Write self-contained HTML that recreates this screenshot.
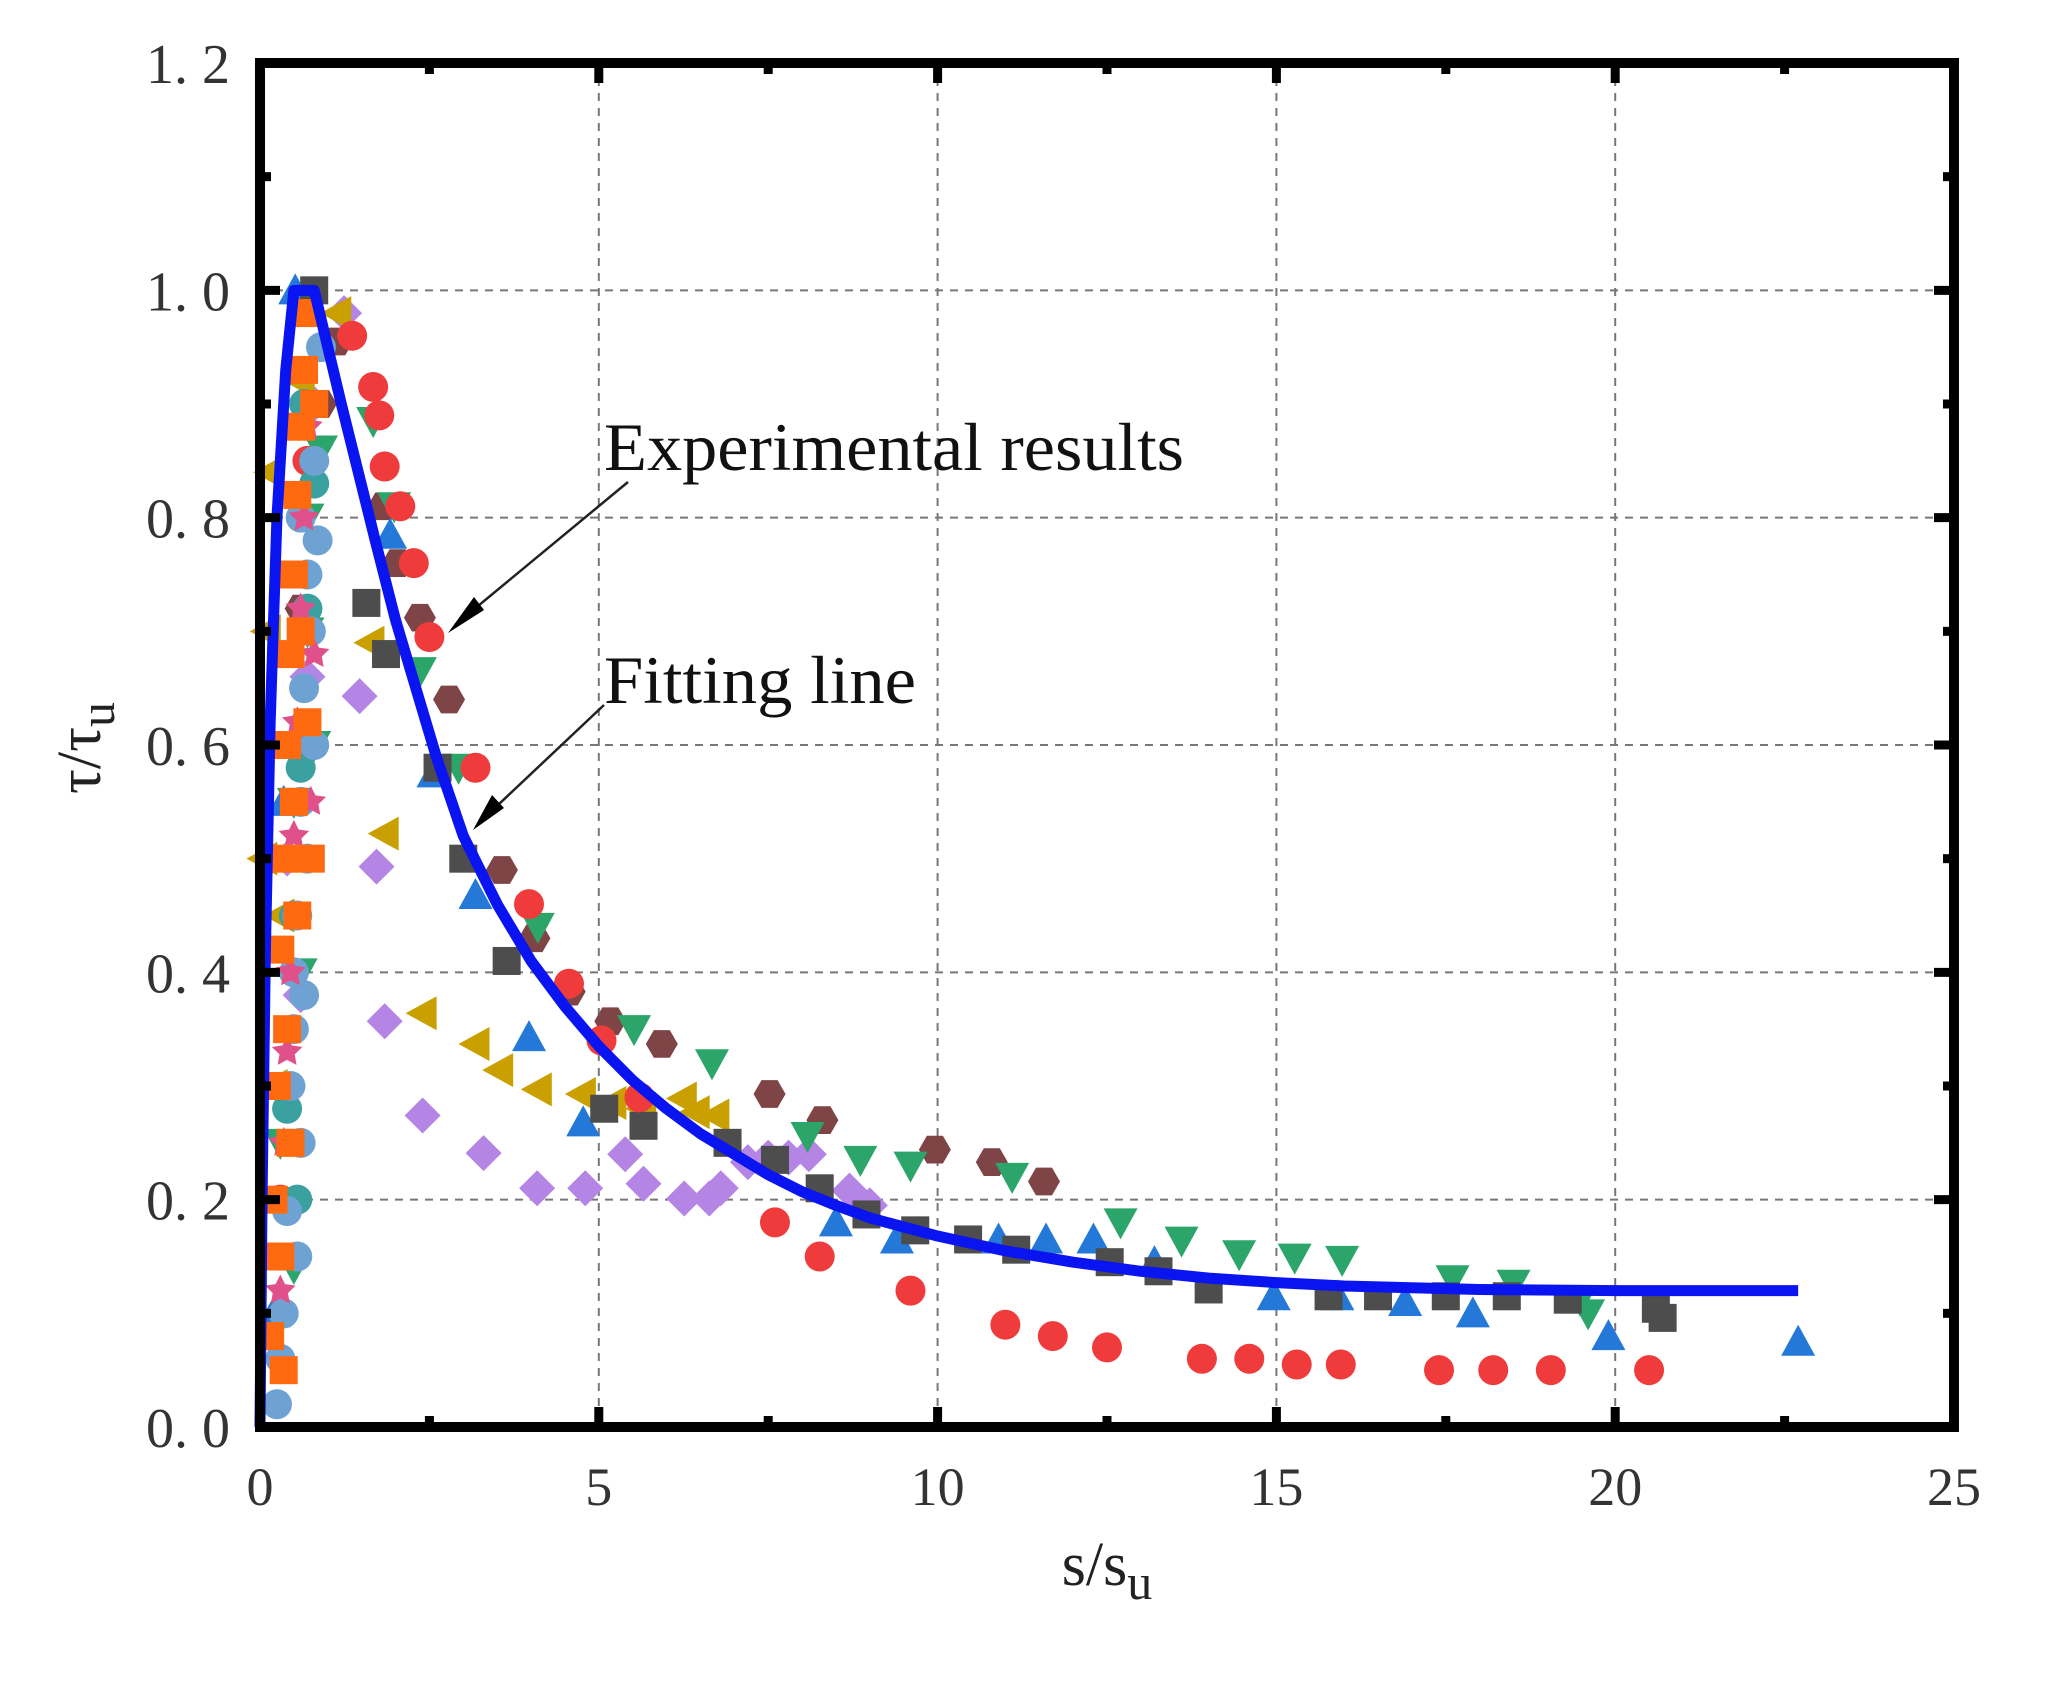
<!DOCTYPE html>
<html><head><meta charset="utf-8"><style>
html,body{margin:0;padding:0;background:#fff;}
svg{display:block;}
text{font-family:"Liberation Serif",serif;}
</style></head><body>
<svg id="chart" width="2061" height="1689" viewBox="0 0 2061 1689" xmlns="http://www.w3.org/2000/svg">
<g id="grid"></g>
<g id="marks"></g>
<g id="fitg"></g>
<g id="axes"></g>
<text x="1107" y="1585" font-size="62" text-anchor="middle" fill="#222">s/s<tspan font-size="50" dy="14">u</tspan></text>
<text transform="translate(100,748) rotate(-90)" font-size="62" text-anchor="middle" fill="#222">τ/τ<tspan font-size="50" dy="14">u</tspan></text>
<text x="604" y="470" font-size="68" textLength="580" lengthAdjust="spacingAndGlyphs" fill="#111">Experimental results</text>
<text x="604" y="703" font-size="68" textLength="312" lengthAdjust="spacingAndGlyphs" fill="#111">Fitting line</text>
<line x1="628" y1="482" x2="455" y2="625" stroke="#222" stroke-width="2.5"/>
<polygon points="448,633 474,597 484,610" fill="#000"/>
<line x1="604" y1="705" x2="480" y2="822" stroke="#222" stroke-width="2.5"/>
<polygon points="473,830 492,795 504,808" fill="#000"/>
</svg>
<script>
const xTicks=[0,5,10,15,20,25];
const xTickLabels=["0","5","10","15","20","25"];
const yTicks=[0,0.2,0.4,0.6,0.8,1.0,1.2];
const yTickLabels=["0. 0","0. 2","0. 4","0. 6","0. 8","1. 0","1. 2"];
const fitX=[0,0.03,0.08,0.15,0.25,0.38,0.5,0.8,1.0,1.2,1.45,1.7,2.0,2.3,2.6,3,3.5,4,4.5,5,5.5,6,6.5,7,7.5,8,8.5,9,10,11,12,13,14,15,16,18,20,22.7];
const fitY=[0,0.2,0.42,0.62,0.8,0.93,1.0,1.0,0.95,0.9,0.84,0.78,0.71,0.65,0.59,0.52,0.46,0.41,0.37,0.335,0.305,0.28,0.258,0.24,0.222,0.207,0.195,0.184,0.168,0.155,0.145,0.137,0.131,0.127,0.124,0.121,0.12,0.12];
const redX=[0.3,0.5,0.7,1.36,1.67,1.76,1.84,2.07,2.27,2.5,3.18,3.97,4.56,5.04,5.6,7.6,8.26,9.6,11.0,11.7,12.5,13.9,14.6,15.3,15.95,17.4,18.2,19.05,20.5];
const redY=[0.2,0.6,0.85,0.96,0.915,0.89,0.845,0.81,0.76,0.695,0.58,0.46,0.39,0.34,0.29,0.18,0.15,0.12,0.09,0.08,0.07,0.06,0.06,0.055,0.055,0.05,0.05,0.05,0.05];
const grayX=[0.3,0.5,0.8,1.57,1.86,2.62,3.0,3.64,5.08,5.66,6.9,7.6,8.26,8.95,9.67,10.45,11.16,12.54,13.26,14.0,15.77,16.5,17.5,18.4,19.3,20.6,20.7];
const grayY=[0.3,0.75,1.0,0.725,0.68,0.58,0.50,0.41,0.28,0.265,0.25,0.235,0.21,0.187,0.173,0.165,0.156,0.145,0.137,0.121,0.115,0.115,0.115,0.115,0.112,0.104,0.096];
const blueX=[0.2,0.35,0.52,1.92,2.56,3.18,3.97,4.77,8.5,9.4,10.9,11.6,12.3,13.2,14.96,15.9,16.9,17.9,19.9,22.7];
const blueY=[0.1,0.55,1.0,0.785,0.575,0.468,0.343,0.268,0.18,0.165,0.165,0.165,0.165,0.145,0.115,0.115,0.11,0.10,0.08,0.075];
const greenX=[0.3,0.5,0.7,1.67,1.98,2.36,2.93,4.1,5.52,6.67,8.08,8.86,9.6,11.1,12.7,13.6,14.45,15.27,15.97,17.6,18.5,19.48,19.6,0.6,0.8,0.9,0.5,0.7];
const greenY=[0.25,0.55,0.8,0.885,0.81,0.665,0.58,0.44,0.35,0.32,0.256,0.235,0.23,0.22,0.18,0.164,0.152,0.149,0.147,0.13,0.126,0.112,0.10,0.4,0.6,0.86,0.14,0.7];
const brownX=[0.6,0.9,1.14,1.82,2.03,2.36,2.79,3.57,4.05,4.57,5.17,5.93,7.52,8.3,9.96,10.8,11.57];
const brownY=[0.72,0.9,0.955,0.81,0.76,0.712,0.64,0.49,0.43,0.383,0.357,0.337,0.293,0.27,0.244,0.233,0.216];
const purpleX=[0.4,0.8,1.24,1.47,1.72,1.84,2.4,3.3,4.09,4.8,5.39,5.66,6.26,6.63,6.8,7.2,7.5,7.8,8.1,8.7,9.0,0.6,0.7];
const purpleY=[0.5,0.9,0.98,0.643,0.493,0.357,0.274,0.241,0.21,0.21,0.24,0.214,0.201,0.201,0.21,0.233,0.237,0.237,0.24,0.208,0.195,0.38,0.66];
const goldX=[0.05,0.1,0.15,0.3,0.6,1.14,1.63,1.84,2.4,3.18,3.53,4.1,4.75,5.2,5.64,6.24,6.43,6.72,0.2,0.45];
const goldY=[0.5,0.7,0.84,0.45,0.92,0.98,0.69,0.522,0.364,0.337,0.314,0.297,0.293,0.285,0.28,0.289,0.277,0.274,0.3,0.6];
const orangeX=[0.15,0.2,0.25,0.3,0.35,0.4,0.45,0.5,0.55,0.6,0.65,0.7,0.3,0.4,0.5,0.6,0.7,0.75,0.8,0.55,0.45,0.35];
const orangeY=[0.08,0.2,0.3,0.42,0.5,0.6,0.68,0.75,0.82,0.88,0.93,0.98,0.15,0.35,0.55,0.7,0.62,0.5,0.9,0.45,0.25,0.05];
const steelX=[0.25,0.3,0.35,0.4,0.45,0.5,0.55,0.6,0.65,0.7,0.5,0.6,0.8,0.9,0.75,0.85,0.8,0.7,0.65,0.6,0.55];
const steelY=[0.02,0.06,0.1,0.19,0.3,0.35,0.45,0.55,0.65,0.75,0.4,0.8,0.85,0.95,0.7,0.78,0.6,0.5,0.38,0.25,0.15];
const pinkX=[0.3,0.35,0.4,0.45,0.5,0.55,0.6,0.65,0.7,0.75,0.8];
const pinkY=[0.12,0.25,0.33,0.4,0.52,0.62,0.72,0.8,0.88,0.55,0.68];
const tealX=[0.4,0.5,0.6,0.7,0.8,0.55,0.65];
const tealY=[0.28,0.45,0.58,0.72,0.83,0.2,0.9];

const NS="http://www.w3.org/2000/svg";
const X0=260,X1=1954,Y0=1427,Y1=63;
function sx(v){return X0+(v-0)/25*(X1-X0);}
function sy(v){return Y0-(v-0)/1.2*(Y0-Y1);}
function mk(tag,attrs,parent){const e=document.createElementNS(NS,tag);for(const k in attrs)e.setAttribute(k,attrs[k]);parent.appendChild(e);return e;}
const grid=document.getElementById('grid'),marks=document.getElementById('marks'),axes=document.getElementById('axes'),fitg=document.getElementById('fitg');
xTicks.forEach((t,i)=>{
  if(t>0&&t<25){const l=mk('line',{x1:sx(t),x2:sx(t),y1:Y1,y2:Y0,stroke:'#777','stroke-width':2,'stroke-dasharray':'8,7'},grid);
  
  }
  const tx=mk('text',{x:sx(t),y:Y0+78,'font-size':54,'text-anchor':'middle',fill:'#333'},axes);
  tx.textContent=xTickLabels[i];
  
  
});
yTicks.forEach((t,i)=>{
  if(t>0&&t<1.2){const l=mk('line',{x1:X0,x2:X1,y1:sy(t),y2:sy(t),stroke:'#777','stroke-width':2,'stroke-dasharray':'8,7'},grid);
  
  }
  const tx=mk('text',{x:230,y:sy(t)+20,'font-size':56,'text-anchor':'end',fill:'#333'},axes);
  tx.textContent=yTickLabels[i];
  
  
});
for(let v=0;v<=25;v+=2.5){const L=(v%5===0)?20:11;
  mk('line',{x1:sx(v),x2:sx(v),y1:Y0,y2:Y0-L,stroke:'#000','stroke-width':9},axes);
  mk('line',{x1:sx(v),x2:sx(v),y1:Y1,y2:Y1+L,stroke:'#000','stroke-width':9},axes);}
for(let k=0;k<=12;k++){const v=k/10;const L=(k%2===0)?20:11;
  mk('line',{x1:X0,x2:X0+L,y1:sy(v),y2:sy(v),stroke:'#000','stroke-width':9},axes);
  mk('line',{x1:X1,x2:X1-L,y1:sy(v),y2:sy(v),stroke:'#000','stroke-width':9},axes);}
const frame=mk('rect',{x:X0,y:Y1,width:X1-X0,height:Y0-Y1,fill:'none',stroke:'#000','stroke-width':10},axes);



function shape(type,cx,cy,color,parent){
  const r=15;let e;
  if(type==='circle')e=mk('circle',{cx,cy,r,fill:color},parent);
  else if(type==='square')e=mk('rect',{x:cx-14,y:cy-14,width:28,height:28,fill:color},parent);
  else if(type==='up')e=mk('polygon',{points:`${cx},${cy-17} ${cx+17},${cy+14} ${cx-17},${cy+14}`,fill:color},parent);
  else if(type==='down')e=mk('polygon',{points:`${cx},${cy+17} ${cx+17},${cy-14} ${cx-17},${cy-14}`,fill:color},parent);
  else if(type==='left')e=mk('polygon',{points:`${cx-17},${cy} ${cx+14},${cy-17} ${cx+14},${cy+17}`,fill:color},parent);
  else if(type==='diamond')e=mk('polygon',{points:`${cx},${cy-18} ${cx+18},${cy} ${cx},${cy+18} ${cx-18},${cy}`,fill:color},parent);
  else if(type==='hex'){let p=[];for(let k=0;k<6;k++){const a=Math.PI/3*k;p.push((cx+16*Math.cos(a))+','+(cy+16*Math.sin(a)));}e=mk('polygon',{points:p.join(' '),fill:color},parent);}
  else if(type==='star'){let p=[];for(let k=0;k<10;k++){const a=Math.PI/5*k-Math.PI/2;const rr=k%2?8:16;p.push((cx+rr*Math.cos(a))+','+(cy+rr*Math.sin(a)));}e=mk('polygon',{points:p.join(' '),fill:color},parent);}
  return e;
}
const series=[
 [purpleX,purpleY,'diamond','#b585e6','purple-diamond'],
 [goldX,goldY,'left','#c9a000','gold-triangle'],
 [brownX,brownY,'hex','#7e4446','brown-hexagon'],
 [greenX,greenY,'down','#2ca56a','green-triangle'],
 [blueX,blueY,'up','#2378d8','blue-triangle'],
 [grayX,grayY,'square','#4d4d4d','gray-square'],
 [redX,redY,'circle','#ef3b3b','red-circle'],
 [tealX,tealY,'circle','#3aa0a0','teal-circle'],
 [steelX,steelY,'circle','#6ea2d2','steelblue-circle'],
 [pinkX,pinkY,'star','#e0508a','pink-star'],
 [orangeX,orangeY,'square','#ff6a10','orange-square']
];
series.forEach(s=>{
  const g=mk('g',{},marks);
  
  
  s[0].forEach((x,i)=>{const e=shape(s[2],sx(x),sy(s[1][i]),s[3],g);
    
    });
});
const pts=fitX.map((x,i)=>sx(x)+','+sy(fitY[i])).join(' ');
const fl=mk('polyline',{points:pts,fill:'none',stroke:'#0a14f0','stroke-width':11,'stroke-linejoin':'round'},fitg);


</script>
</body></html>
